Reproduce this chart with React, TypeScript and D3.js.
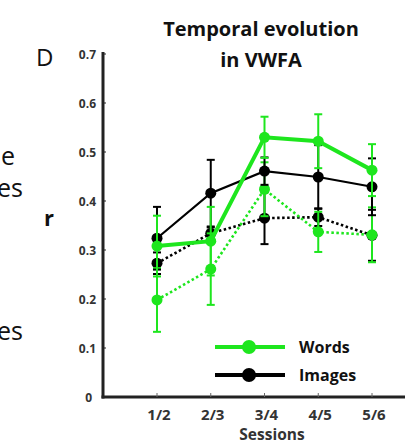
import React from "react";
import * as d3 from "d3";

const sessions = ["1/2", "2/3", "3/4", "4/5", "5/6"];
const yTicks = [0, 0.1, 0.2, 0.3, 0.4, 0.5, 0.6, 0.7];

const wordsSolid = [0.308, 0.318, 0.53, 0.522, 0.463];
const wordsSolidErr = [0.062, 0.07, 0.042, 0.055, 0.053];
const imagesSolid = [0.324, 0.416, 0.461, 0.449, 0.429];
const imagesSolidErr = [0.064, 0.068, 0.028, 0.065, 0.058];
const wordsDotted = [0.198, 0.261, 0.424, 0.337, 0.331];
const wordsDottedErr = [0.065, 0.073, 0.055, 0.041, 0.056];
const imagesDotted = [0.273, 0.334, 0.365, 0.367, 0.33];
const imagesDottedErr = [0.022, 0.012, 0.053, 0.018, 0.052];

const legendLabels = ["Words", "Images"];

const GREEN = "#1ee61e";
const BLACK = "#000000";

export default function App() {
  const x = d3.scaleLinear().domain([0, 4]).range([157, 372]);
  const y = d3.scaleLinear().domain([0, 0.7]).range([397, 54]);

  const series = [
    { vals: imagesDotted, err: imagesDottedErr, color: BLACK, dotted: true, w: 2.6 },
    { vals: wordsDotted, err: wordsDottedErr, color: GREEN, dotted: true, w: 2.6 },
    { vals: imagesSolid, err: imagesSolidErr, color: BLACK, dotted: false, w: 2.2 },
    { vals: wordsSolid, err: wordsSolidErr, color: GREEN, dotted: false, w: 4 },
  ];

  const line = d3
    .line<number>()
    .x((_, i) => x(i))
    .y((d) => y(d));

  const bold = "'Open Sans', 'DejaVu Sans', sans-serif";

  return (
    <svg
      width={405}
      height={445}
      style={{ position: "absolute", left: 0, top: 0, background: "#fff" }}
    >
      {/* cropped neighboring panel text */}
      <g fontFamily="'Open Sans', sans-serif" fontSize={25} fill="#111" textAnchor="end">
        <text x={15} y={165}>e</text>
        <text x={23} y={197}>es</text>
        <text x={23} y={340}>es</text>
      </g>
      <text x={36} y={66} fontFamily="'Open Sans', sans-serif" fontSize={24} fill="#111">
        D
      </text>
      <text
        x={261}
        y={36}
        textAnchor="middle"
        fontFamily={bold}
        fontWeight="bold"
        fontSize={20}
        fill="#111"
      >
        Temporal evolution
      </text>
      <text
        x={261}
        y={67}
        textAnchor="middle"
        fontFamily={bold}
        fontWeight="bold"
        fontSize={20}
        fill="#111"
      >
        in VWFA
      </text>
      <text x={44} y={226} fontFamily={bold} fontWeight="bold" fontSize={22} fill="#111">
        r
      </text>

      {/* y axis */}
      {yTicks.map((t) => (
        <g key={t}>
          <text
            x={t === 0 ? 92 : 96}
            y={y(t) + 4.5}
            textAnchor="end"
            fontFamily={bold}
            fontWeight="bold"
            fontSize={12}
            fill="#333"
          >
            {t === 0 ? "0" : t.toFixed(1)}
          </text>
          <line x1={103} x2={106} y1={y(t)} y2={y(t)} stroke="#222" strokeWidth={1} />
        </g>
      ))}
      <line x1={103} x2={103} y1={52} y2={398.5} stroke="#222" strokeWidth={3} />
      {/* x axis */}
      <line x1={101.5} x2={405} y1={397} y2={397} stroke="#222" strokeWidth={3} />
      {sessions.map((s, i) => (
        <g key={s}>
          <line x1={x(i)} x2={x(i)} y1={397} y2={393} stroke="#666" strokeWidth={1} />
          <text
            x={x(i) + 2}
            y={420}
            textAnchor="middle"
            fontFamily={bold}
            fontWeight="bold"
            fontSize={15}
            fill="#333"
          >
            {s}
          </text>
        </g>
      ))}
      <text
        x={272}
        y={440}
        textAnchor="middle"
        fontFamily={bold}
        fontWeight="bold"
        fontSize={15.5}
        fill="#333"
      >
        Sessions
      </text>

      {/* series */}
      {series.map((s, si) => (
        <g key={si}>
          {s.vals.map((v, i) => (
            <g key={i} stroke={s.color} strokeWidth={2}>
              <line x1={x(i)} x2={x(i)} y1={y(v - s.err[i])} y2={y(v + s.err[i])} />
              <line x1={x(i) - 4} x2={x(i) + 4} y1={y(v - s.err[i])} y2={y(v - s.err[i])} />
              <line x1={x(i) - 4} x2={x(i) + 4} y1={y(v + s.err[i])} y2={y(v + s.err[i])} />
            </g>
          ))}
          <path
            d={line(s.vals) || ""}
            fill="none"
            stroke={s.color}
            strokeWidth={s.w}
            strokeDasharray={s.dotted ? "2.5,2.5" : undefined}
          />
          {s.vals.map((v, i) => (
            <circle key={i} cx={x(i)} cy={y(v)} r={5.5} fill={s.color} />
          ))}
        </g>
      ))}

      {/* legend */}
      {legendLabels.map((l, i) => {
        const ly = 347 + i * 28;
        const c = i === 0 ? GREEN : BLACK;
        return (
          <g key={l}>
            <line x1={215} x2={285} y1={ly} y2={ly} stroke={c} strokeWidth={4} />
            <circle cx={249} cy={ly} r={7} fill={c} />
            <text
              x={299}
              y={ly + 6}
              fontFamily={bold}
              fontWeight="bold"
              fontSize={16}
              fill="#111"
            >
              {l}
            </text>
          </g>
        );
      })}
    </svg>
  );
}
